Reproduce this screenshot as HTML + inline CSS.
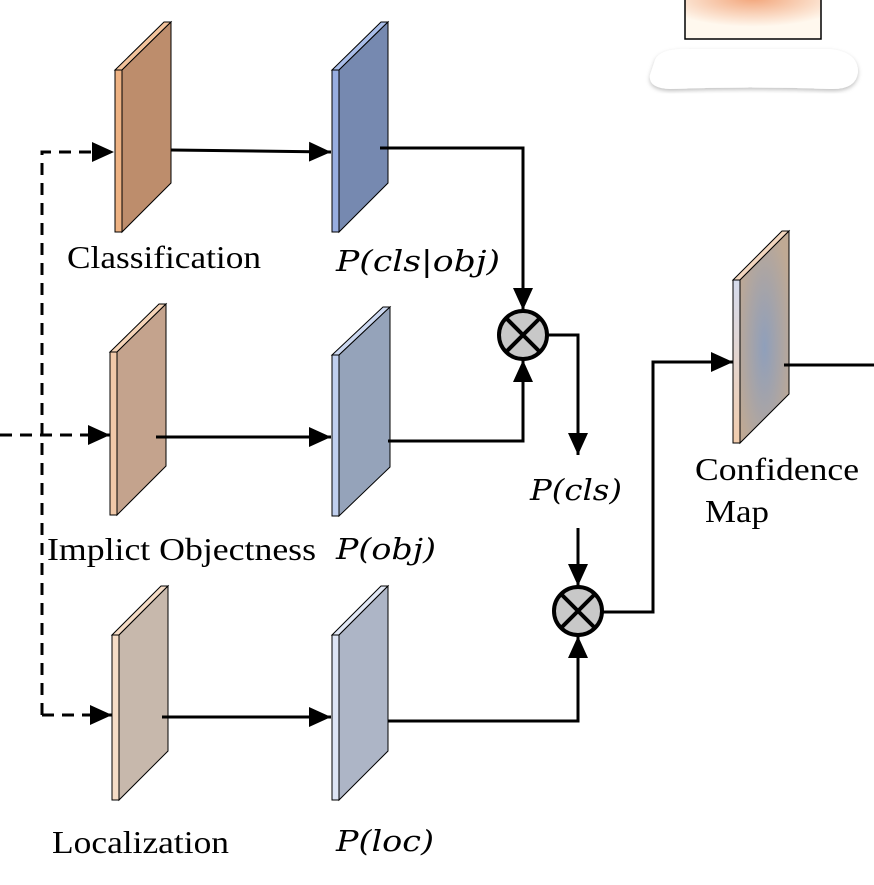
<!DOCTYPE html>
<html><head><style>
body{margin:0;background:#fff}
svg text{font-family:"Liberation Serif",serif}
.m text{font-family:"DejaVu Serif","Liberation Serif",serif;font-style:italic}
</style></head><body>
<svg width="874" height="880" viewBox="0 0 874 880" xmlns="http://www.w3.org/2000/svg">
<defs>
<marker id="a" markerWidth="22" markerHeight="20" refX="22" refY="10" orient="auto" markerUnits="userSpaceOnUse" viewBox="0 0 22 20"><path d="M0,0L22,10L0,20z"/></marker>
<radialGradient id="cg" cx="0.5" cy="0.55" r="0.6"><stop offset="0" stop-color="#8f9fbb"/><stop offset="1" stop-color="#bfa994"/></radialGradient>
<linearGradient id="cs" x1="0" y1="0" x2="0" y2="1"><stop offset="0" stop-color="#d6dced"/><stop offset="1" stop-color="#f2cdae"/></linearGradient>
<radialGradient id="tg" cx="0.5" cy="0" r="0.7"><stop offset="0" stop-color="#f2a57a"/><stop offset="1" stop-color="#fff8ee"/></radialGradient>
<filter id="sh"><feDropShadow dx="0" dy="2" stdDeviation="2" flood-color="#000" flood-opacity="0.25"/></filter>
</defs>
<rect x="685" y="-2" width="136" height="41" fill="url(#tg)" stroke="#000" stroke-width="1.5"/>
<path d="M655,60 Q660,48 690,49 L830,49 Q858,52 858,72 Q856,90 830,89 Q750,86 670,89 Q648,88 650,75z" fill="#fff" filter="url(#sh)"/>
<g stroke="#000" stroke-width="1">
<g><rect x="115" y="70" width="7" height="162" fill="#eeb283"/><path d="M115,70L164,22L171,22L122,70z" fill="#f3c39c"/><path d="M122,70L171,22L171,183L122,232z" fill="#bd8d6c"/></g>
<g><rect x="332" y="70" width="7" height="162" fill="#97ade0"/><path d="M332,70L381,22L388,22L339,70z" fill="#a9bde8"/><path d="M339,70L388,22L388,183L339,232z" fill="#7689b0"/></g>
<g><rect x="110" y="352" width="7" height="163" fill="#f0c8a8"/><path d="M110,352L159,304L166,304L117,352z" fill="#f5d4b8"/><path d="M117,352L166,304L166,466L117,515z" fill="#c4a38d"/></g>
<g><rect x="332" y="355" width="7" height="161" fill="#c0cfee"/><path d="M332,355L383,307L390,307L339,355z" fill="#ccd8f0"/><path d="M339,355L390,307L390,467L339,516z" fill="#95a3ba"/></g>
<g><rect x="112" y="635" width="7" height="165" fill="#f5dcc6"/><path d="M112,635L161,586L168,586L119,635z" fill="#f5dcc6"/><path d="M119,635L168,586L168,751L119,800z" fill="#c7b8ac"/></g>
<g><rect x="332" y="635" width="7" height="165" fill="#dde4f4"/><path d="M332,635L381,586L388,586L339,635z" fill="#e2e8f5"/><path d="M339,635L388,586L388,751L339,800z" fill="#adb5c6"/></g>
<g><rect x="733" y="280" width="7" height="163" fill="url(#cs)"/><path d="M733,280L782,231L789,231L740,280z" fill="#f2d6bf"/><path d="M740,280L789,231L789,394L740,443z" fill="url(#cg)"/></g>
</g>
<g fill="none" stroke="#000" stroke-width="3">
<path d="M42,715V152H114" stroke-dasharray="12,8" marker-end="url(#a)"/>
<path d="M0,435H110" stroke-dasharray="12,8" marker-end="url(#a)"/>
<path d="M42,715H112" stroke-dasharray="12,8" marker-end="url(#a)"/>
<path d="M171,150L331,152" marker-end="url(#a)"/>
<path d="M156,437H331" marker-end="url(#a)"/>
<path d="M162,717H331" marker-end="url(#a)"/>
<path d="M380,148H523V310" marker-end="url(#a)"/>
<path d="M388,441H523V360" marker-end="url(#a)"/>
<path d="M548,335H578V455" marker-end="url(#a)"/>
<path d="M578,528V586" marker-end="url(#a)"/>
<path d="M388,721H578V636" marker-end="url(#a)"/>
<path d="M603,612H653V362H733" marker-end="url(#a)"/>
<path d="M784,365H874"/>
</g>
<g stroke="#000" stroke-width="4" fill="#c8c8c8">
<circle cx="523" cy="335" r="24"/>
<path d="M506,318L540,352M540,318L506,352"/>
<circle cx="578" cy="611" r="24"/>
<path d="M561,594L595,628M595,594L561,628"/>
</g>
<g font-size="32" fill="#000">
<text x="67" y="268" textLength="194" lengthAdjust="spacingAndGlyphs">Classification</text>
<text x="47" y="560" textLength="269" lengthAdjust="spacingAndGlyphs">Implict Objectness</text>
<text x="52" y="853" textLength="177" lengthAdjust="spacingAndGlyphs">Localization</text>
<text x="695" y="480" textLength="164" lengthAdjust="spacingAndGlyphs">Confidence</text>
<text x="705" y="522" textLength="64" lengthAdjust="spacingAndGlyphs">Map</text>
</g>
<g font-size="29" fill="#000" class="m">
<text x="336" y="271" textLength="164" lengthAdjust="spacingAndGlyphs">P(cls|obj)</text>
<text x="336" y="559" textLength="100" lengthAdjust="spacingAndGlyphs">P(obj)</text>
<text x="530" y="500" textLength="92" lengthAdjust="spacingAndGlyphs">P(cls)</text>
<text x="336" y="851" textLength="98" lengthAdjust="spacingAndGlyphs">P(loc)</text>
</g>
</svg>
</body></html>
